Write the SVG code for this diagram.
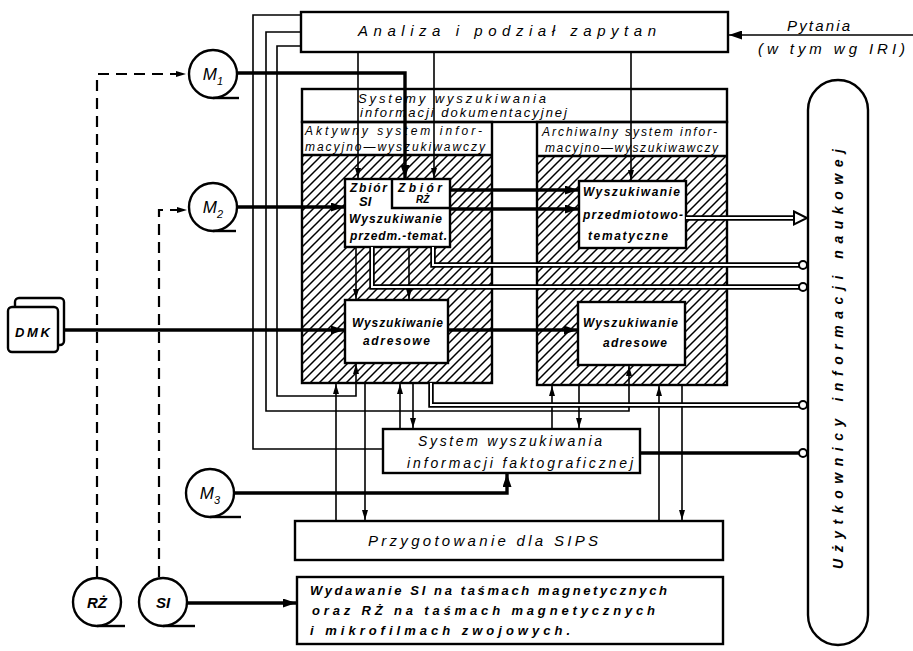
<svg xmlns="http://www.w3.org/2000/svg" width="913" height="651" viewBox="0 0 913 651">
<style>
.box{fill:#fff;stroke:#000;stroke-width:2.4}
.fr{fill:none;stroke:#000;stroke-width:2.4}
.ln{fill:none;stroke:#000;stroke-width:1.6}
.tk{fill:none;stroke:#000;stroke-width:3.4}
.dash{fill:none;stroke:#000;stroke-width:2.2;stroke-dasharray:11 7}
.dbl{fill:none;stroke:#000;stroke-width:5.5}
.dblw{fill:none;stroke:#fff;stroke-width:2}
.end{fill:#fff;stroke:#000;stroke-width:2}
.t{font-family:"Liberation Sans",Arial,sans-serif;font-style:italic;fill:#000}
.b{font-weight:bold}
</style>
<defs>
<pattern id="hatch" patternUnits="userSpaceOnUse" width="9" height="9">
<path d="M-2,2 l4,-4 M0,9 l9,-9 M7,11 l4,-4" stroke="#000" stroke-width="1.5"/>
</pattern>
<marker id="a" viewBox="0 0 10 6" refX="10" refY="3" markerWidth="10" markerHeight="6" markerUnits="userSpaceOnUse" orient="auto"><path d="M0,0 L10,3 L0,6 z"/></marker>
<marker id="A" viewBox="0 0 13 9" refX="13" refY="4.5" markerWidth="13" markerHeight="9" markerUnits="userSpaceOnUse" orient="auto"><path d="M0,0 L13,4.5 L0,9 z"/></marker>
</defs>
<rect width="913" height="651" fill="#fff"/>

<g id="analiza">
<rect class="box" x="301" y="12" width="427" height="40"/>
<text class="t" x="358" y="36" font-size="15" textLength="298" lengthAdjust="spacing">Analiza i podział zapytan</text>
</g>
<g id="pytania">
<text class="t" x="787" y="31" font-size="15" textLength="63" lengthAdjust="spacing">Pytania</text>
<text class="t" x="758" y="54" font-size="15" textLength="147" lengthAdjust="spacing">(w tym wg IRI)</text>
</g>

<g id="systemy">
<rect class="box" x="302" y="89" width="425" height="33"/>
<text class="t" x="358" y="103" font-size="13" textLength="188" lengthAdjust="spacing">Systemy wyszukiwania</text>
<text class="t" x="360" y="117" font-size="13" textLength="207" lengthAdjust="spacing">informacji dokumentacyjnej</text>
</g>

<g id="aktywny">
<rect x="302" y="155" width="190" height="228" fill="url(#hatch)"/>
<rect class="fr" x="302" y="122" width="190" height="261"/>
<line class="fr" x1="302" y1="155" x2="492" y2="155"/>
<text class="t" x="305" y="135" font-size="12" textLength="177" lengthAdjust="spacing">Aktywny system infor-</text>
<text class="t" x="305" y="151" font-size="12" textLength="180" lengthAdjust="spacing">macyjno—wyszukiwawczy</text>
</g>

<g id="archiwalny">
<rect x="537" y="156" width="190" height="229" fill="url(#hatch)"/>
<rect class="fr" x="537" y="122" width="190" height="263"/>
<line class="fr" x1="537" y1="156" x2="727" y2="156"/>
<text class="t" x="542" y="136" font-size="12" textLength="175" lengthAdjust="spacing">Archiwalny system infor-</text>
<text class="t" x="545" y="152" font-size="12" textLength="173" lengthAdjust="spacing">macyjno—wyszukiwawczy</text>
</g>

<g id="zbior">
<rect class="box" x="345" y="179" width="105" height="68"/>
<path class="fr" d="M392,179 V208 H450"/>
<text class="t b" x="350" y="192" font-size="12" textLength="37" lengthAdjust="spacing">Zbiór</text>
<text class="t b" x="359" y="206" font-size="13">SI</text>
<text class="t b" x="398" y="192" font-size="12" textLength="44" lengthAdjust="spacing">Zbiór</text>
<text class="t b" x="416" y="203" font-size="10">RŻ</text>
<text class="t b" x="349" y="223" font-size="12" textLength="93" lengthAdjust="spacing">Wyszukiwanie</text>
<text class="t b" x="350" y="240" font-size="12" textLength="97" lengthAdjust="spacing">przedm.-temat.</text>
</g>

<g id="arch-przedm">
<rect class="box" x="579" y="181" width="107" height="67"/>
<text class="t b" x="583" y="196" font-size="12" textLength="97" lengthAdjust="spacing">Wyszukiwanie</text>
<text class="t b" x="583" y="219" font-size="12" textLength="100" lengthAdjust="spacing">przedmiotowo-</text>
<text class="t b" x="588" y="240" font-size="12" textLength="80" lengthAdjust="spacing">tematyczne</text>
</g>

<g id="akt-adres">
<rect class="box" x="345" y="300" width="103" height="63"/>
<text class="t b" x="352" y="327" font-size="12" textLength="91" lengthAdjust="spacing">Wyszukiwanie</text>
<text class="t b" x="363" y="345" font-size="12" textLength="67" lengthAdjust="spacing">adresowe</text>
</g>

<g id="arch-adres">
<rect class="box" x="578" y="302" width="107" height="63"/>
<text class="t b" x="583" y="327" font-size="12" textLength="95" lengthAdjust="spacing">Wyszukiwanie</text>
<text class="t b" x="603" y="347" font-size="12" textLength="64" lengthAdjust="spacing">adresowe</text>
</g>

<g id="faktograf">
<rect class="box" x="383" y="429" width="257" height="44"/>
<text class="t" x="418" y="446" font-size="14" textLength="184" lengthAdjust="spacing">System wyszukiwania</text>
<text class="t" x="407" y="468" font-size="14" textLength="226" lengthAdjust="spacing">informacji faktograficznej</text>
</g>

<g id="przygotowanie">
<rect class="box" x="295" y="521" width="428" height="39"/>
<text class="t" x="368" y="546" font-size="15" textLength="230" lengthAdjust="spacing">Przygotowanie dla SIPS</text>
</g>

<g id="wydawanie">
<rect class="box" x="297" y="577" width="426" height="67"/>
<text class="t b" x="310" y="595" font-size="13" textLength="357" lengthAdjust="spacing">Wydawanie SI na taśmach magnetycznych</text>
<text class="t b" x="312" y="615" font-size="13" textLength="343" lengthAdjust="spacing">oraz RŻ na taśmach magnetycznych</text>
<text class="t b" x="310" y="635" font-size="13" textLength="260" lengthAdjust="spacing">i mikrofilmach zwojowych.</text>
</g>

<g id="uzytkownicy">
<rect class="box" x="808" y="80" width="60" height="565" rx="30" ry="30"/>
<text class="t b" transform="translate(843,359) rotate(-90)" text-anchor="middle" font-size="14" textLength="420" lengthAdjust="spacing">Użytkownicy informacji naukowej</text>
</g>

<g id="dmk">
<rect class="box" x="15" y="298" width="49" height="47" rx="4"/>
<rect class="box" x="8" y="307" width="50" height="45" rx="4"/>
<text class="t b" x="15" y="337" font-size="13" textLength="35" lengthAdjust="spacing">DMK</text>
</g>

<g id="m1">
<circle class="box" cx="213" cy="74" r="24"/>
<line class="fr" x1="213" y1="98" x2="239" y2="98"/>
<text class="t" x="213" y="80" font-size="17" text-anchor="middle">M<tspan font-size="11" dy="5">1</tspan></text>
</g>
<g id="m2">
<circle class="box" cx="213" cy="207" r="24"/>
<line class="fr" x1="213" y1="231" x2="236" y2="231"/>
<text class="t" x="213" y="213" font-size="17" text-anchor="middle">M<tspan font-size="11" dy="5">2</tspan></text>
</g>
<g id="m3">
<circle class="box" cx="210" cy="493" r="24"/>
<line class="fr" x1="210" y1="517" x2="241" y2="517"/>
<text class="t" x="210" y="499" font-size="17" text-anchor="middle">M<tspan font-size="11" dy="5">3</tspan></text>
</g>
<g id="rz">
<circle class="box" cx="97" cy="602" r="24"/>
<line class="fr" x1="97" y1="626" x2="125" y2="626"/>
<text class="t b" x="97" y="608" font-size="15" text-anchor="middle">RŻ</text>
</g>
<g id="si">
<circle class="box" cx="163" cy="602" r="24"/>
<line class="fr" x1="163" y1="626" x2="195" y2="626"/>
<text class="t b" x="163" y="608" font-size="15" text-anchor="middle">SI</text>
</g>

<g id="connectors">
<!-- dashed feeds -->
<path class="dash" d="M97,577 V74 H186" marker-end="url(#a)"/>
<path class="dash" d="M159,577 V210 H187" marker-end="url(#a)"/>
<!-- queries in -->
<path class="ln" d="M913,35 H729" marker-end="url(#A)"/>
<!-- analiza down -->
<path class="ln" d="M358,52 V178" marker-end="url(#a)"/>
<path class="ln" d="M434,52 V178" marker-end="url(#a)"/>
<path class="ln" d="M631,52 V180" marker-end="url(#a)"/>
<!-- analiza loops -->
<path class="ln" d="M301,15 H253 V449 H383"/>
<path class="ln" d="M301,32 H266 V411 H629 V366" marker-end="url(#a)"/>
<path class="ln" d="M301,46 H277 V396 H356 V364" marker-end="url(#a)"/>
<!-- thick feeds -->
<path class="tk" d="M238,73 H405 V178" marker-end="url(#A)"/>
<path class="tk" d="M237,207 H344" marker-end="url(#A)"/>
<path class="tk" d="M64,330 H344" marker-end="url(#A)"/>
<path class="tk" d="M448,330 H577" marker-end="url(#A)"/>
<path class="tk" d="M450,190 H578" marker-end="url(#A)"/>
<path class="tk" d="M450,209 H578" marker-end="url(#A)"/>
<path class="tk" d="M234,493 H507 V474" marker-end="url(#A)"/>
<path class="tk" d="M187,603 H296" marker-end="url(#A)"/>
<!-- zbior to aktywne adresowe -->
<path class="ln" d="M356,247 V299" marker-end="url(#a)"/>
<path class="ln" d="M409,247 V299" marker-end="url(#a)"/>
<!-- active bottom -->
<path class="ln" d="M336,521 V384" marker-end="url(#a)"/>
<path class="ln" d="M365,383 V520" marker-end="url(#a)"/>
<path class="ln" d="M400,429 V384" marker-end="url(#a)"/>
<path class="ln" d="M413,383 V428" marker-end="url(#a)"/>
<!-- archive bottom -->
<path class="ln" d="M552,429 V386" marker-end="url(#a)"/>
<path class="ln" d="M579,385 V428" marker-end="url(#a)"/>
<path class="ln" d="M659,521 V386" marker-end="url(#a)"/>
<path class="ln" d="M682,385 V520" marker-end="url(#a)"/>
<!-- outputs to users -->
<path class="dbl" d="M433,247 V265 H799"/>
<path class="dblw" d="M433,247 V265 H799"/>
<path class="dbl" d="M372,247 V287 H799"/>
<path class="dblw" d="M372,247 V287 H799"/>
<path class="dbl" d="M686,218 H796"/>
<path class="dblw" d="M686,218 H797"/>
<path class="end" d="M794,211.5 L807,218 L794,224.5 z"/>
<path class="dbl" d="M431,383 V405 H799" stroke-width="4.5"/>
<path class="dblw" d="M431,383 V405 H799" stroke-width="1.2"/>
<path class="tk" d="M640,453 H799"/>
<circle class="end" cx="803" cy="265" r="4"/>
<circle class="end" cx="803" cy="287" r="4"/>
<circle class="end" cx="803" cy="405" r="4"/>
<circle class="end" cx="803" cy="453" r="4"/>
</g>
</svg>
